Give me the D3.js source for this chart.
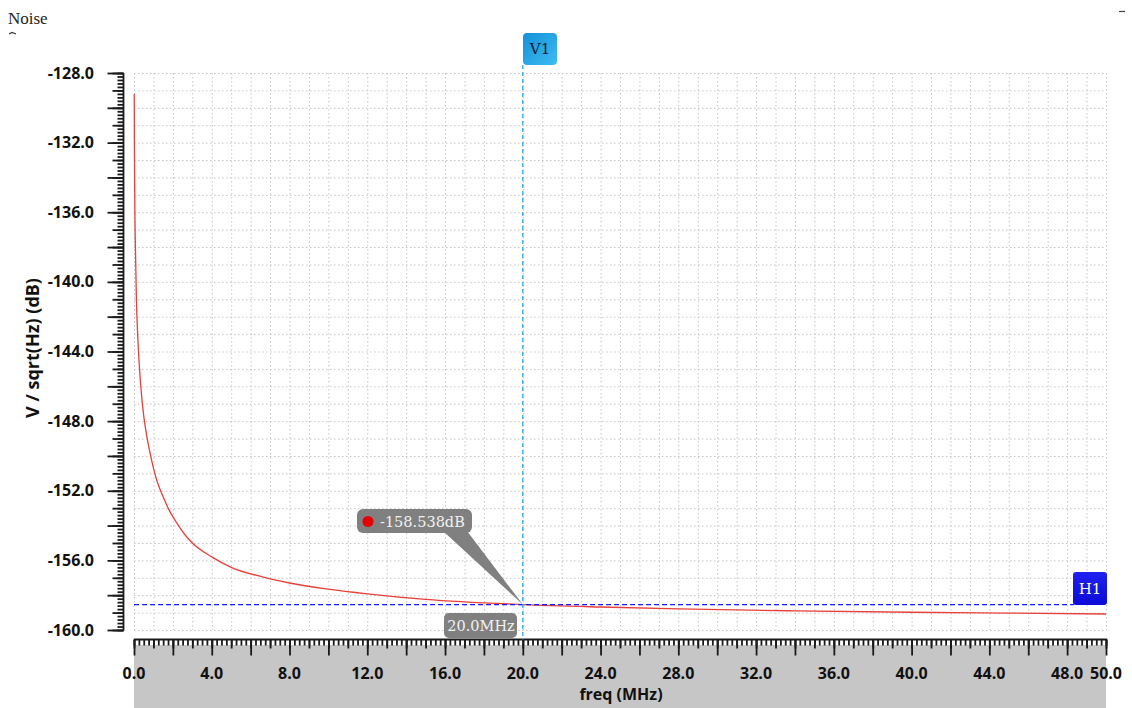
<!DOCTYPE html>
<html>
<head>
<meta charset="utf-8">
<script src="https://cdn.jsdelivr.net/npm/d3@7"></script>
<style>
  body { margin: 0; background: #ffffff; }
  svg { display: block; }
</style>
</head>
<body>
<svg id="chart" width="1132" height="708"></svg>
<script>
// data
const freqMHz = [0.012, 0.02, 0.03, 0.05, 0.087, 0.12, 0.2, 0.35, 0.5, 0.65, 0.8, 1.0, 1.2, 1.5, 1.8, 2.2, 2.6, 3.0, 4.0, 5.0, 6.6, 8.0, 10.0, 12.0, 15.0, 20.0, 24.0, 28.0, 34.0, 40.0, 45.0, 50.0];
const noiseDb = [-129.2, -131.9, -133.9, -136.4, -138.8, -140.8, -143.3, -146.0, -147.7, -148.8, -149.7, -150.7, -151.5, -152.35, -153.1, -153.85, -154.5, -155.0, -155.8, -156.4, -156.95, -157.3, -157.65, -157.92, -158.24, -158.538, -158.68, -158.79, -158.9, -158.98, -159.03, -159.08];
const xTickLabels = [0, 4, 8, 12, 16, 20, 24, 28, 32, 36, 40, 44, 48, 50];
const yTickLabels = [-128, -132, -136, -140, -144, -148, -152, -156, -160];
const markerFreq = 20.0;
const markerDb = -158.538;

const svg = d3.select("#chart");
const plot = { left: 134, right: 1106, top: 73, bottom: 630 };
const x = d3.scaleLinear().domain([0, 50]).range([plot.left, plot.right]);
const y = d3.scaleLinear().domain([-128, -160]).range([plot.top, plot.bottom]);

const sans = "'Open Sans', 'Noto Sans', sans-serif";
const serif = "'DejaVu Serif', serif";
const fmt = v => d3.format(".1f")(v).replace("\u2212", "-");

// title
svg.append("text")
    .text("Noise")
    .attr("x", 8)
    .attr("y", 24)
    .style("font-family", "'Liberation Serif', serif")
    .style("font-size", "17px")
    .style("fill", "#222");
svg.append("path").attr("d", "M9,34 L12,32.5 L16,34").attr("fill", "none").attr("stroke", "#333").attr("stroke-width", 1.2);
svg.append("path").attr("d", "M1119,11.5 L1125,11.5").attr("stroke", "#444").attr("stroke-width", 1.2);

// grey band under x axis
svg.append("rect")
    .attr("x", plot.left)
    .attr("y", 645)
    .attr("width", plot.right - plot.left)
    .attr("height", 708 - 645)
    .attr("fill", "#c6c6c6");

// grid
let g_grid = svg.append("g").attr("stroke", "#c4c4c4").attr("stroke-width", 1).attr("stroke-dasharray", "1.5,2.5");
g_grid.selectAll(".gv").data(d3.range(0, 51, 1)).join("line")
    .attr("x1", d => x(d) + 0.5).attr("x2", d => x(d) + 0.5)
    .attr("y1", plot.top).attr("y2", plot.bottom);
g_grid.selectAll(".gh").data(d3.range(-128, -161, -1)).join("line")
    .attr("x1", plot.left).attr("x2", plot.right)
    .attr("y1", d => y(d) + 0.5).attr("y2", d => y(d) + 0.5);

// y axis ticks
const axisX = 123.5;
function yTicks(values, size) {
    let g = svg.append("g").attr("transform", "translate(" + axisX + ",0)")
        .call(d3.axisLeft(y).tickValues(values).tickSize(size).tickFormat(""));
    g.select(".domain").remove();
    g.selectAll("line").attr("stroke", "#1a1a1a").attr("stroke-width", 1.8);
    return g;
}
yTicks(d3.range(-128, -160.01, -0.2).map(v => +v.toFixed(1)), 6);
yTicks(d3.range(-128, -161, -1), 11);
yTicks(d3.range(-128, -161, -2), 16);
svg.append("line").attr("x1", axisX).attr("x2", axisX).attr("y1", plot.top).attr("y2", plot.bottom + 0.5)
    .attr("stroke", "#1a1a1a").attr("stroke-width", 1.8);
svg.append("g").selectAll("text").data(yTickLabels).join("text")
    .text(d => fmt(d))
    .attr("x", 94)
    .attr("y", d => y(d) + 5.5)
    .attr("text-anchor", "end")
    .style("font-family", sans)
    .style("font-size", "16px")
    .style("font-weight", "bold")
    .style("fill", "#111");

// x axis ticks
const axisY = 639.5;
function xTicks(values, size) {
    let g = svg.append("g").attr("transform", "translate(0," + axisY + ")")
        .call(d3.axisBottom(x).tickValues(values).tickSize(size).tickFormat(""));
    g.select(".domain").remove();
    g.selectAll("line").attr("stroke", "#1a1a1a").attr("stroke-width", 1.8);
    return g;
}
xTicks(d3.range(0, 50.01, 0.25), 6);
xTicks(d3.range(0, 51, 1), 9);
xTicks(d3.range(0, 51, 2), 16);
svg.append("line").attr("x1", plot.left).attr("x2", plot.right + 1).attr("y1", axisY).attr("y2", axisY)
    .attr("stroke", "#1a1a1a").attr("stroke-width", 1.8);
svg.append("g").selectAll("text").data(xTickLabels).join("text")
    .text(d => fmt(d))
    .attr("x", d => x(d))
    .attr("y", 679)
    .attr("text-anchor", "middle")
    .style("font-family", sans)
    .style("font-size", "16px")
    .style("font-weight", "bold")
    .style("fill", "#111");

// axis titles
svg.append("text")
    .text("freq (MHz)")
    .attr("x", 621)
    .attr("y", 700)
    .attr("text-anchor", "middle")
    .style("font-family", sans)
    .style("font-size", "16px")
    .style("font-weight", "bold")
    .style("fill", "#111");
svg.append("text")
    .text("V / sqrt(Hz) (dB)")
    .attr("transform", "translate(39,348) rotate(-90)")
    .attr("text-anchor", "middle")
    .style("font-family", sans)
    .style("font-size", "18px")
    .style("font-weight", "bold")
    .style("fill", "#111");

// curve
const line = d3.line()
    .x((d, i) => x(freqMHz[i]))
    .y(d => y(d))
    .curve(d3.curveMonotoneX);
svg.append("path")
    .datum(noiseDb)
    .attr("d", line)
    .attr("fill", "none")
    .attr("stroke", "#e8403a")
    .attr("stroke-width", 1.3);

// H1 cursor
const defs = svg.append("defs");
let gradH = defs.append("linearGradient").attr("id", "gradH").attr("x1", 0).attr("y1", 0).attr("x2", 0).attr("y2", 1);
gradH.append("stop").attr("offset", "0%").attr("stop-color", "#2020f0");
gradH.append("stop").attr("offset", "100%").attr("stop-color", "#0c0cd8");
let gradV = defs.append("linearGradient").attr("id", "gradV").attr("x1", 0).attr("y1", 0).attr("x2", 1).attr("y2", 1);
gradV.append("stop").attr("offset", "0%").attr("stop-color", "#1590d8");
gradV.append("stop").attr("offset", "100%").attr("stop-color", "#3cbcf2");

svg.append("line")
    .attr("x1", plot.left).attr("x2", 1074)
    .attr("y1", y(markerDb)).attr("y2", y(markerDb))
    .attr("stroke", "#1a1aff").attr("stroke-width", 1.3).attr("stroke-dasharray", "5,3");
svg.append("rect")
    .attr("x", 1073).attr("y", 572).attr("width", 34).attr("height", 33).attr("rx", 3)
    .attr("fill", "url(#gradH)");
svg.append("text").text("H1")
    .attr("x", 1090).attr("y", 594).attr("text-anchor", "middle")
    .style("font-family", serif).style("font-size", "15px").style("fill", "#ffffff");

// V1 cursor
svg.append("line")
    .attr("x1", x(markerFreq)).attr("x2", x(markerFreq))
    .attr("y1", 65).attr("y2", axisY)
    .attr("stroke", "#2aa8ea").attr("stroke-width", 1.3).attr("stroke-dasharray", "4,3");
svg.append("rect")
    .attr("x", 523).attr("y", 33).attr("width", 34).attr("height", 32).attr("rx", 4)
    .attr("fill", "url(#gradV)");
svg.append("text").text("V1")
    .attr("x", 540).attr("y", 54).attr("text-anchor", "middle")
    .style("font-family", serif).style("font-size", "15px").style("fill", "#101830");

// marker tooltip
const px = x(markerFreq), py = y(markerDb);
let g_tip = svg.append("g");
g_tip.append("path")
    .attr("d", "M443,531 L467,531 L" + px + "," + py + " Z")
    .attr("fill", "#808080");
g_tip.append("rect")
    .attr("x", 357).attr("y", 509).attr("width", 115).attr("height", 24).attr("rx", 6)
    .attr("fill", "#808080");
g_tip.append("circle").attr("cx", 368).attr("cy", 521.5).attr("r", 5.5).attr("fill", "#e60000");
g_tip.append("text").text(markerDb.toFixed(3) + "dB")
    .attr("x", 380).attr("y", 527)
    .style("font-family", serif).style("font-size", "14.5px").style("fill", "#f2f2f2");

svg.append("rect")
    .attr("x", 444).attr("y", 613).attr("width", 73).attr("height", 25).attr("rx", 5)
    .attr("fill", "#808080");
svg.append("text").text(markerFreq.toFixed(1) + "MHz")
    .attr("x", 481).attr("y", 631).attr("text-anchor", "middle")
    .style("font-family", serif).style("font-size", "14.5px").style("fill", "#f2f2f2");
</script>
</body>
</html>
